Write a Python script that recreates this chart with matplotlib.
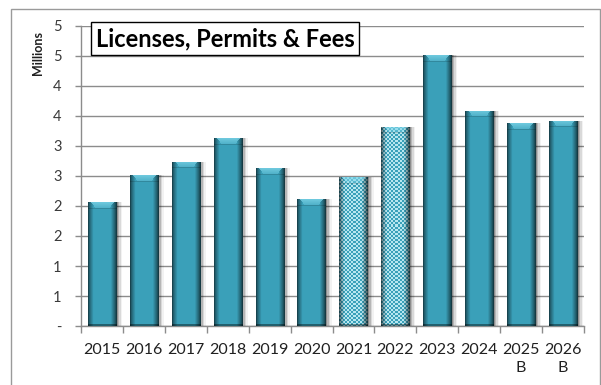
import numpy as np
import matplotlib
matplotlib.use("Agg")
import matplotlib.pyplot as plt
from matplotlib.patches import Rectangle
from matplotlib.colors import to_rgb

# Licenses, permits & fees revenue, in millions
years = ["2015", "2016", "2017", "2018", "2019", "2020",
         "2021", "2022", "2023", "2024", "2025\nB", "2026\nB"]
revenue_millions = [2.06, 2.51, 2.74, 3.13, 2.63, 2.11,
                    2.48, 3.32, 4.51, 3.59, 3.38, 3.42]
patterned = [False, False, False, False, False, False,
             True, True, False, False, False, False]
ytick_values = [0.0, 0.5, 1.0, 1.5, 2.0, 2.5, 3.0, 3.5, 4.0, 4.5, 5.0]
ytick_labels = ["-", "1", "1", "2", "2", "3", "3", "4", "4", "5", "5"]

FONT = "Lato"
BASE = np.array(to_rgb("#3aa0b9"))
LIGHT = np.array(to_rgb("#7fd6ea"))
TEXT = "#3a3a3a"
GRID = "#8c8c8c"

W, H, DPI = 601, 385, 100
fig = plt.figure(figsize=(W / DPI, H / DPI), dpi=DPI)
fig.patch.set_facecolor("white")

# outer chart border
fig.add_artist(Rectangle((11 / W, -0.01), (599.5 - 11) / W, 1 - 9 / H + 0.01,
                         transform=fig.transFigure, fill=False,
                         edgecolor="#9a9a9a", linewidth=1.0))

ax = fig.add_axes([81 / W, 1 - 326 / H, (584 - 81) / W, (326 - 26) / H])
ax.set_xlim(-0.5, len(years) - 0.5)
ax.set_ylim(0, 5)
ax.set_facecolor("white")

# grid and axes
ax.set_yticks(ytick_values)
ax.set_yticklabels(ytick_labels, fontsize=10.5, color=TEXT, family=FONT)
ax.yaxis.grid(True, color=GRID, linewidth=1.0, zorder=0)
ax.set_axisbelow(True)
for s in ["top", "right"]:
    ax.spines[s].set_visible(False)
for s in ["left", "bottom"]:
    ax.spines[s].set_color(GRID)
    ax.spines[s].set_linewidth(1.0)
ax.tick_params(axis="y", length=4, width=1, color=GRID, pad=10)

x = np.arange(len(years))
ax.set_xticks(np.arange(len(years) + 1) - 0.5)
ax.set_xticklabels([])
ax.tick_params(axis="x", which="major", length=5, width=1, color=GRID)
ax.set_xticks(x, minor=True)
ax.set_xticklabels(years, minor=True, fontsize=11.5, color="#202020",
                   family=FONT, linespacing=1.4, va="top")
ax.tick_params(axis="x", which="minor", length=0, pad=12)

bar_w = 0.67
px_per_x = (584 - 81) / len(years)
px_per_y = (326 - 26) / 5.0

# soft drop shadow to the right of each bar
for off_px, a in [(1.5, 0.22), (3.0, 0.16), (4.5, 0.10), (6.0, 0.05)]:
    ax.bar(x + off_px / px_per_x, revenue_millions, width=bar_w,
           color="black", alpha=a, linewidth=0, zorder=2)

bars = ax.bar(x, revenue_millions, width=bar_w, color=BASE,
              linewidth=0, zorder=3)


def bar_texture(wpx, hpx, checker):
    t = (np.arange(wpx) + 0.5) / wpx
    prof = np.interp(t, [0.0, 0.06, 0.2, 0.78, 0.92, 1.0],
                     [0.35, 0.62, 1.0, 1.0, 0.6, 0.3])
    img = np.ones((hpx, wpx, 3)) * BASE[None, None, :]
    if checker:
        ii, jj = np.mgrid[0:hpx, 0:wpx]
        cell = ((ii // 2 + jj // 2) % 2 == 0)
        img[cell] = np.array(to_rgb("#b7e6ef"))
    img = img * prof[None, :, None]
    # bevelled light cap at the top
    bev = 6
    for r in range(min(bev, hpx)):
        inset = int(round(wpx * 0.1 + r * 0.9))
        a = 0.75 - 0.08 * r
        lo, hi = inset, max(inset, wpx - inset)
        img[r, lo:hi] = img[r, lo:hi] * (1 - a) + LIGHT * a
    if hpx > bev:
        img[bev:bev + 1, :] *= 0.85
    # darker base edge
    img[-2:, :] *= 0.6
    return np.clip(img, 0, 1)


for rect, is_pat in zip(bars, patterned):
    x0, y0 = rect.get_x(), rect.get_y()
    w, h = rect.get_width(), rect.get_height()
    wpx = max(int(round(w * px_per_x)), 2)
    hpx = max(int(round(h * px_per_y)), 2)
    im = ax.imshow(bar_texture(wpx, hpx, is_pat), extent=(x0, x0 + w, y0, y0 + h),
                   aspect="auto", interpolation="nearest", zorder=4,
                   origin="upper")
    im.set_clip_path(rect)

ax.set_xlim(-0.5, len(years) - 0.5)
ax.set_ylim(0, 5)

# axis unit label
fig.text(38 / W, 1 - 53 / H, "Millions", rotation=90, fontsize=9,
         fontweight="bold", family=FONT, color="#202020",
         ha="center", va="center")

# title box
fig.text(225 / W, 1 - 38.5 / H, "Licenses, Permits & Fees", fontsize=17,
         fontweight="bold", family=FONT, color="black",
         ha="center", va="center",
         bbox=dict(boxstyle="square,pad=0.2", facecolor="white",
                   edgecolor="black", linewidth=1.0), zorder=10)

fig.savefig("out.png", dpi=DPI)
